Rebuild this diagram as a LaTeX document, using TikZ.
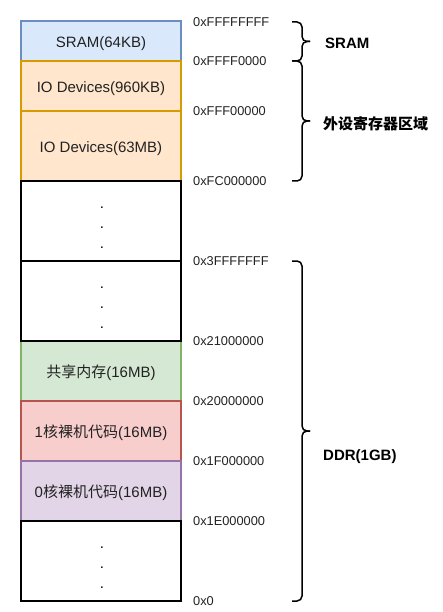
\documentclass[tikz,border=0pt]{standalone}
\usepackage{fontspec}
\setmainfont{Liberation Sans}
\newfontfamily\cjk{Noto Sans CJK SC}
\definecolor{sramfill}{HTML}{DAE8FC}\definecolor{sramline}{HTML}{6C8EBF}
\definecolor{iofill}{HTML}{FFE6CC}\definecolor{ioline}{HTML}{D79B00}
\definecolor{shfill}{HTML}{D5E8D4}\definecolor{shline}{HTML}{82B366}
\definecolor{c1fill}{HTML}{F8CECC}\definecolor{c1line}{HTML}{B85450}
\definecolor{c0fill}{HTML}{E1D5E7}\definecolor{c0line}{HTML}{9673A6}
\definecolor{txt}{HTML}{222222}
\begin{document}
\begin{tikzpicture}[x=1pt,y=-1pt,
  boxtext/.style={font=\fontsize{15}{18}\selectfont, text=txt, inner sep=0pt},
  addr/.style={font=\fontsize{12.8}{15}\selectfont, text=txt, anchor=west, inner sep=0pt},
  blabel/.style={font=\fontsize{15}{18}\selectfont\bfseries, anchor=west, inner sep=0pt},
  cbox/.style={line width=1.3pt},
  kbox/.style={draw=black, line width=2pt, fill=white},
  bracebr/.style={line width=1.5pt, rounded corners=5pt},
  dotnode/.style={font=\fontsize{15}{18}\selectfont, anchor=base, inner sep=0pt}]
\useasboundingbox (0,0) rectangle (442,612);
% coloured boxes
\filldraw[cbox, fill=sramfill, draw=sramline] (21,21) rectangle (181,61);
\filldraw[cbox, fill=iofill, draw=ioline] (21,61) rectangle (181,111);
\filldraw[cbox, fill=iofill, draw=ioline] (21,111) rectangle (181,181);
\filldraw[cbox, fill=shfill, draw=shline] (21,341) rectangle (181,401);
\filldraw[cbox, fill=c1fill, draw=c1line] (21,401) rectangle (181,461);
\filldraw[cbox, fill=c0fill, draw=c0line] (21,461) rectangle (181,521);
% black boxes
\draw[kbox] (21,181) rectangle (181,261);
\draw[kbox] (21,261) rectangle (181,341);
\draw[kbox] (21,521) rectangle (181,601);
% box texts
\node[boxtext] (t1) at (101,43.5) {SRAM(64KB)};
\node[boxtext] (t2) at (101,88.5) {IO Devices(960KB)};
\node[boxtext] (t3) at (101,148.5) {IO Devices(63MB)};
\node[boxtext] (t4) at (101,373) {{\cjk 共享内存}(16MB)};
\node[boxtext] (t5) at (101,433) {1{\cjk 核裸机代码}(16MB)};
\node[boxtext] (t6) at (101,493) {0{\cjk 核裸机代码}(16MB)};
% dots
\foreach \b/\n in {181/a,261/b,521/c}{
  \node[dotnode] (d\n1) at (102,\b+27) {.};
  \node[dotnode] (d\n2) at (102,\b+47) {.};
  \node[dotnode] (d\n3) at (102,\b+67) {.};
}
% addresses
\node[addr] (a1) at (193,22.5) {0xFFFFFFFF};
\node[addr] (a2) at (193,61.5) {0xFFFF0000};
\node[addr] (a3) at (193,111.5) {0xFFF00000};
\node[addr] (a4) at (193,181.5) {0xFC000000};
\node[addr] (a5) at (193,261.5) {0x3FFFFFFF};
\node[addr] (a6) at (193,341.5) {0x21000000};
\node[addr] (a7) at (193,401.5) {0x20000000};
\node[addr] (a8) at (193,461.5) {0x1F000000};
\node[addr] (a9) at (193,521.5) {0x1E000000};
\node[addr] (a10) at (193,601.5) {0x0};
% braces
\foreach \ya/\yb in {22/61, 61/181, 261/601}{
  \pgfmathsetmacro\ym{(\ya+\yb)/2}
  \draw[bracebr] (292,\ya) -- (302,\ya) -- (302,\ym) -- (310,\ym);
  \draw[bracebr] (292,\yb) -- (302,\yb) -- (302,\ym) -- (310,\ym);
}
% labels
\node[blabel] (l1) at (325,43) {SRAM};
\node[blabel] (l2) at (323,124) {\cjk 外设寄存器区域};
\node[blabel] (l3) at (323,456.5) {DDR(1GB)};
\end{tikzpicture}
\end{document}
